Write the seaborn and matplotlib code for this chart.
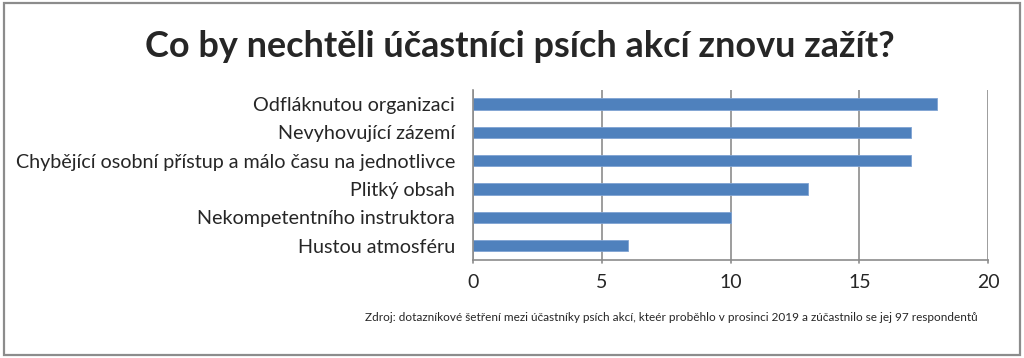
import matplotlib
matplotlib.use("Agg")
import matplotlib.pyplot as plt
import seaborn as sns
import pandas as pd
from matplotlib.patches import Rectangle

categories = ["Odfláknutou organizaci", "Nevyhovující zázemí",
              "Chybějící osobní přístup a málo času na jednotlivce",
              "Plitký obsah", "Nekompetentního instruktora", "Hustou atmosféru"]
values = [18, 17, 17, 13, 10, 6]
xticks = [0, 5, 10, 15, 20]
title = "Co by nechtěli účastníci psích akcí znovu zažít?"
source = "Zdroj: dotazníkové šetření mezi účastníky psích akcí, kteér proběhlo v prosinci 2019 a zúčastnilo se jej 97 respondentů"

sns.set_theme(style="white")
plt.rcParams['font.family'] = ['Lato', 'DejaVu Sans']

df = pd.DataFrame({"cat": categories, "val": values})
fig = plt.figure(figsize=(10.24, 3.58), dpi=100)
ax = fig.add_axes([0.462, 0.274, 0.503, 0.475])
sns.barplot(data=df, y="cat", x="val", orient="h", color="#4F81BD",
            saturation=1, width=0.4, ax=ax, edgecolor="#7FA3D3", linewidth=0.6)
ax.set_xlim(0, 20)
ax.set_ylim(5.5, -0.5)
ax.set_xticks(xticks)
ax.set_xticklabels([str(t) for t in xticks], fontsize=14)
ax.set_xlabel("")
ax.set_ylabel("")
ax.set_yticks(range(len(categories)))
ax.set_yticklabels(categories, fontsize=14.2)
ax.tick_params(axis='y', length=0, pad=13)
ax.tick_params(axis='x', length=0, pad=10)
ax.grid(axis='x', color='#8C8C8C', linewidth=1.2)
ax.set_axisbelow(True)
for s in ['top', 'right']:
    ax.spines[s].set_visible(False)
for s in ['left', 'bottom']:
    ax.spines[s].set_color('#8C8C8C')
    ax.spines[s].set_linewidth(1.2)
ax.set_yticks([i - 0.5 for i in range(len(categories) + 1)], minor=True)
ax.tick_params(axis='y', which='minor', length=5, color='#8C8C8C', width=1.2, direction='out')
for t in xticks:
    ax.plot([t, t], [5.5, 5.62], color='#8C8C8C', lw=1.2, clip_on=False)

fig.text(0.508, 0.87, title, ha='center', va='center', fontsize=25.9, fontweight='bold')
fig.text(0.656, 0.112, source, ha='center', va='center', fontsize=8.5)
fig.patches.append(Rectangle((0.004, 0.009), 0.992, 0.984, transform=fig.transFigure,
                             fill=False, edgecolor='#8C8C8C', linewidth=1.6))
fig.savefig("out.png", dpi=100)
